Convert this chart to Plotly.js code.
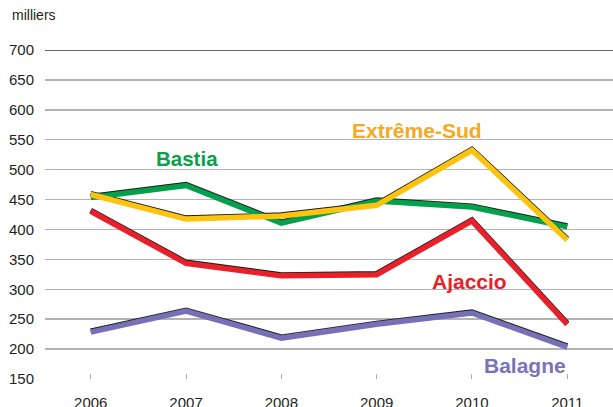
<!DOCTYPE html>
<html><head><meta charset="utf-8">
<script src="https://cdn.plot.ly/plotly-3.0.1.min.js"></script>
<style>body{margin:0;background:#fff}#c{width:613px;height:407px}</style>
</head><body><div id="c"></div>
<script>
const years = [2006, 2007, 2008, 2009, 2010, 2011];
const bastia = [455, 475, 412, 449, 439, 406];
const extremeSud = [460, 419, 424, 442, 534, 384];
const ajaccio = [432, 345, 324, 326, 416, 243];
const balagne = [230, 265, 220, 243, 262, 205];
const yTicks = [150, 200, 250, 300, 350, 400, 450, 500, 550, 600, 650, 700];

const series = [
  {name: 'Balagne', y: balagne, color: '#7770b6'},
  {name: 'Ajaccio', y: ajaccio, color: '#e8202a'},
  {name: 'Bastia', y: bastia, color: '#05a04b'},
  {name: 'Extrême-Sud', y: extremeSud, color: '#fdc30f'}
];
const traces = [];
series.forEach(s => traces.push({x: years, y: s.y, type: 'scatter', mode: 'lines', yaxis: 'y',
  line: {color: '#1a1a1a', width: 5.5}, hoverinfo: 'skip', showlegend: false}));
series.forEach(s => traces.push({x: years, y: s.y, type: 'scatter', mode: 'lines', yaxis: 'y2',
  line: {color: s.color, width: 5.5}, name: s.name, showlegend: false}));

const layout = {
  width: 613, height: 407,
  margin: {l: 45, r: 0, t: 50, b: 28},
  paper_bgcolor: '#fff', plot_bgcolor: '#fff',
  font: {family: 'Liberation Sans, Arial, sans-serif', size: 15, color: '#231f20'},
  xaxis: {range: [2005.52, 2011.48], tickvals: years, ticktext: years.map(String),
    showgrid: false, zeroline: false, showline: false,
    ticks: 'inside', ticklen: 5, tickcolor: '#aaaaaa', tickwidth: 1, ticklabelstandoff: 13,
    tickfont: {size: 15, color: '#231f20'}},
  yaxis: {range: [150, 700], tickvals: yTicks, showgrid: true, gridcolor: '#b3b3b3', gridwidth: 1.5,
    zeroline: false, showline: false, ticks: '', ticklabelstandoff: 10,
    tickfont: {size: 15, color: '#231f20'}},
  yaxis2: {range: [151.6, 701.6], overlaying: 'y', visible: false, showgrid: false},
  shapes: [{type: 'line', xref: 'paper', yref: 'y', x0: 0, x1: 1, y0: 700, y1: 700,
    line: {color: '#333333', width: 1.5}}],
  annotations: [
    {xref: 'paper', yref: 'paper', x: -0.062, y: 1.105, xanchor: 'left', yanchor: 'middle',
      text: 'milliers', showarrow: false, font: {size: 14, color: '#231f20'}},
    {xref: 'x', yref: 'y', x: 2007.01, y: 519, text: '<b>Bastia</b>', showarrow: false,
      font: {size: 20.5, color: '#0aa04a'}},
    {xref: 'x', yref: 'y', x: 2009.42, y: 565, text: '<b>Extrême-Sud</b>', showarrow: false,
      font: {size: 21, color: '#f7a823'}},
    {xref: 'x', yref: 'y', x: 2009.97, y: 313, text: '<b>Ajaccio</b>', showarrow: false,
      font: {size: 21, color: '#e8202a'}},
    {xref: 'x', yref: 'y', x: 2010.56, y: 172, text: '<b>Balagne</b>', showarrow: false,
      font: {size: 21, color: '#7b73b8'}}
  ]
};
Plotly.newPlot('c', traces, layout, {displayModeBar: false, staticPlot: true});
</script></body></html>
